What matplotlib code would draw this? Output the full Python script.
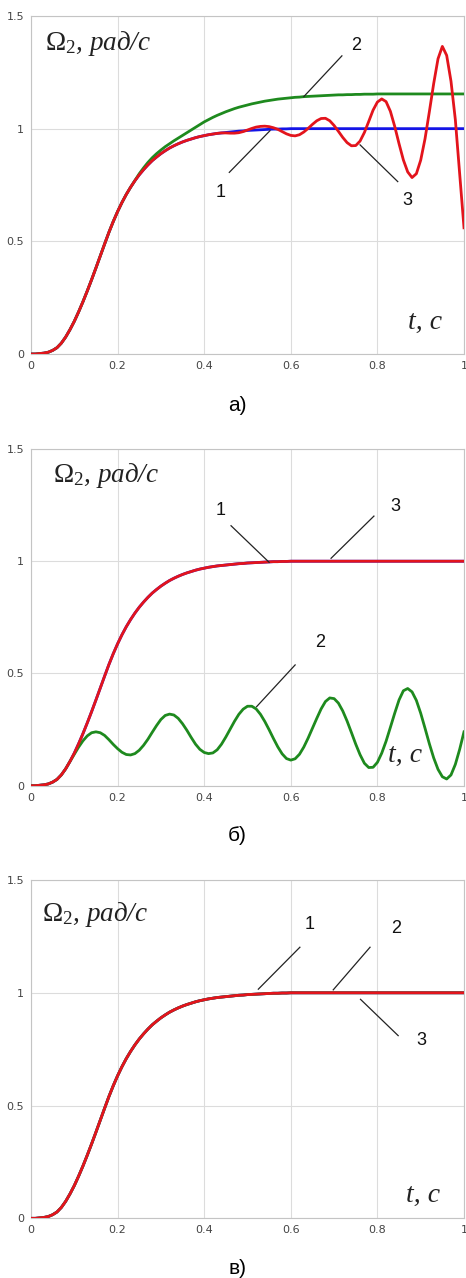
import numpy as np
import matplotlib
matplotlib.use("Agg")
import matplotlib.pyplot as plt

plt.rcParams["mathtext.fontset"] = "custom"
plt.rcParams["mathtext.rm"] = "Liberation Serif"
plt.rcParams["mathtext.it"] = "Liberation Serif:italic"

# time grid, s
t = np.round(np.arange(0, 101) * 0.01, 2)

# curve 1: reference response (also curve 3 in б and all curves in в)
omega_1 = [
    0.000, 0.000, 0.002, 0.004, 0.008, 0.016, 0.028, 0.048, 0.075, 0.108,
    0.145, 0.187, 0.232, 0.280, 0.330, 0.382, 0.435, 0.488, 0.540, 0.588,
    0.632, 0.672, 0.708, 0.740, 0.769, 0.795, 0.818, 0.839, 0.858, 0.874,
    0.889, 0.902, 0.914, 0.924, 0.933, 0.941, 0.948, 0.954, 0.960, 0.965,
    0.969, 0.973, 0.976, 0.979, 0.981, 0.983, 0.985, 0.987, 0.989, 0.990,
    0.992, 0.993, 0.994, 0.995, 0.996, 0.997, 0.998, 0.998, 0.999, 0.999,
    1.000, 1.000, 1.000, 1.000, 1.000, 1.000, 1.000, 1.000, 1.000, 1.000,
    1.000, 1.000, 1.000, 1.000, 1.000, 1.000, 1.000, 1.000, 1.000, 1.000,
    1.000, 1.000, 1.000, 1.000, 1.000, 1.000, 1.000, 1.000, 1.000, 1.000,
    1.000, 1.000, 1.000, 1.000, 1.000, 1.000, 1.000, 1.000, 1.000, 1.000,
    1.000,
]

# а): curve 2
omega_2a = [
    0.000, 0.000, 0.002, 0.004, 0.008, 0.016, 0.028, 0.048, 0.075, 0.108,
    0.145, 0.187, 0.232, 0.280, 0.330, 0.382, 0.435, 0.488, 0.540, 0.588,
    0.632, 0.672, 0.708, 0.740, 0.770, 0.800, 0.826, 0.850, 0.871, 0.889,
    0.905, 0.920, 0.933, 0.946, 0.958, 0.970, 0.982, 0.994, 1.006, 1.018,
    1.030, 1.040, 1.050, 1.059, 1.067, 1.075, 1.082, 1.089, 1.095, 1.100,
    1.105, 1.110, 1.114, 1.118, 1.122, 1.125, 1.128, 1.131, 1.133, 1.135,
    1.137, 1.139, 1.140, 1.142, 1.143, 1.144, 1.145, 1.146, 1.147, 1.148,
    1.149, 1.150, 1.150, 1.151, 1.151, 1.152, 1.152, 1.153, 1.153, 1.153,
    1.154, 1.154, 1.154, 1.154, 1.154, 1.154, 1.154, 1.154, 1.154, 1.154,
    1.154, 1.154, 1.154, 1.154, 1.154, 1.154, 1.154, 1.154, 1.154, 1.154,
    1.154,
]

# а): curve 3
omega_3a = [
    0.000, 0.000, 0.002, 0.004, 0.008, 0.016, 0.028, 0.048, 0.075, 0.108,
    0.145, 0.187, 0.232, 0.280, 0.330, 0.382, 0.435, 0.488, 0.540, 0.588,
    0.632, 0.672, 0.708, 0.740, 0.769, 0.795, 0.818, 0.839, 0.858, 0.874,
    0.889, 0.902, 0.914, 0.924, 0.933, 0.941, 0.948, 0.954, 0.960, 0.965,
    0.969, 0.973, 0.976, 0.979, 0.981, 0.981, 0.980, 0.980, 0.982, 0.987,
    0.994, 1.001, 1.007, 1.010, 1.011, 1.009, 1.004, 0.997, 0.987, 0.977,
    0.970, 0.968, 0.973, 0.985, 1.001, 1.019, 1.035, 1.045, 1.046, 1.035,
    1.014, 0.988, 0.961, 0.938, 0.924, 0.925, 0.945, 0.983, 1.032, 1.082,
    1.118, 1.132, 1.120, 1.077, 1.010, 0.933, 0.861, 0.808, 0.783, 0.800,
    0.860, 0.955, 1.075, 1.200, 1.310, 1.365, 1.325, 1.210, 1.040, 0.800,
    0.560,
]

# б): curve 2
omega_2b = [
    0.000, 0.000, 0.002, 0.004, 0.008, 0.016, 0.028, 0.048, 0.075, 0.108,
    0.140, 0.172, 0.200, 0.222, 0.236, 0.240, 0.236, 0.224, 0.205, 0.184,
    0.165, 0.149, 0.139, 0.137, 0.143, 0.158, 0.180, 0.207, 0.238, 0.268,
    0.295, 0.313, 0.319, 0.315, 0.300, 0.276, 0.247, 0.215, 0.185, 0.162,
    0.148, 0.143, 0.146, 0.160, 0.185, 0.217, 0.252, 0.287, 0.318, 0.341,
    0.354, 0.354, 0.342, 0.318, 0.286, 0.249, 0.210, 0.173, 0.142, 0.121,
    0.114, 0.120, 0.140, 0.172, 0.212, 0.256, 0.300, 0.342, 0.375, 0.391,
    0.388, 0.368, 0.333, 0.288, 0.237, 0.185, 0.138, 0.100, 0.081, 0.082,
    0.104, 0.145, 0.198, 0.260, 0.323, 0.382, 0.423, 0.433, 0.418, 0.380,
    0.323, 0.256, 0.187, 0.124, 0.073, 0.040, 0.030, 0.048, 0.095, 0.162,
    0.240,
]

x_ticks = [0, 0.2, 0.4, 0.6, 0.8, 1]
x_ticklabels = ["0", "0.2", "0.4", "0.6", "0.8", "1"]
y_ticks = [0, 0.5, 1, 1.5]
y_ticklabels = ["0", "0.5", "1", "1.5"]

RED = "#e3141c"
GREEN = "#1e8a1e"
BLUE = "#1414e6"

fig = plt.figure(figsize=(4.66, 12.78), dpi=100)

panels = [
    # (axes rect, caption, caption y, Ω label pos, t label pos, callouts)
    ([0.0665, 0.7230, 0.9292, 0.2645], "а)", 0.683, (0.033, 1.38), (0.870, 0.14),
     [("1", (0.552, 0.991), (0.458, 0.806), (0.438, 0.715)),
      ("2", (0.630, 1.142), (0.718, 1.323), (0.750, 1.370)),
      ("3", (0.760, 0.928), (0.847, 0.765), (0.870, 0.680))]),
    ([0.0665, 0.3852, 0.9292, 0.2635], "б)", 0.3466, (0.051, 1.38), (0.825, 0.135),
     [("1", (0.550, 0.995), (0.462, 1.158), (0.438, 1.225)),
      ("2", (0.521, 0.352), (0.610, 0.538), (0.667, 0.640)),
      ("3", (0.693, 1.013), (0.792, 1.201), (0.841, 1.245))]),
    ([0.0665, 0.0467, 0.9292, 0.2647], "в)", 0.0078, (0.026, 1.345), (0.866, 0.10),
     [("1", (0.525, 1.016), (0.621, 1.202), (0.644, 1.305)),
      ("2", (0.698, 1.013), (0.783, 1.202), (0.843, 1.285)),
      ("3", (0.761, 0.971), (0.848, 0.810), (0.902, 0.790))]),
]

for i, (rect, caption, cap_y, om_pos, t_pos, callouts) in enumerate(panels):
    ax = fig.add_axes(rect)

    if i == 0:
        ax.plot(t, omega_1, color=BLUE, lw=2.0, zorder=3)
        ax.plot(t, omega_2a, color=GREEN, lw=2.0, zorder=3)
        ax.plot(t, omega_3a, color=RED, lw=2.0, zorder=4)
    elif i == 1:
        ax.plot(t, omega_1, color=BLUE, lw=2.0, zorder=3)
        ax.plot(t, omega_2b, color=GREEN, lw=2.0, zorder=3)
        ax.plot(t, omega_1, color=RED, lw=2.0, zorder=4)
    else:
        ax.plot(t, omega_1, color=BLUE, lw=2.0, zorder=3)
        ax.plot(t, omega_1, color=GREEN, lw=2.0, zorder=3)
        ax.plot(t, omega_1, color=RED, lw=2.0, zorder=4)

    ax.set_xlim(0, 1)
    ax.set_ylim(0, 1.5)
    ax.set_xticks(x_ticks)
    ax.set_xticklabels(x_ticklabels)
    ax.set_yticks(y_ticks)
    ax.set_yticklabels(y_ticklabels)
    ax.tick_params(length=0, labelsize=8, labelcolor="#444444", pad=5)
    ax.grid(True, color="#dcdcdc", lw=0.8)
    for s in ax.spines.values():
        s.set_color("#c4c4c4")
        s.set_linewidth(0.8)

    ax.text(om_pos[0], om_pos[1], r"$\Omega_2$, рад/с", family="Liberation Serif",
            style="italic", fontsize=19.5, color="#222222", ha="left", va="center")
    ax.text(t_pos[0], t_pos[1], "t, с", family="Liberation Serif",
            style="italic", fontsize=20, color="#222222", ha="left", va="center")

    for num, p_end, p_start, p_txt in callouts:
        ax.plot([p_start[0], p_end[0]], [p_start[1], p_end[1]], color="#222222",
                lw=0.9, zorder=5)
        ax.text(p_txt[0], p_txt[1], num, family="Liberation Sans", fontsize=13,
                color="#111111", ha="center", va="center", zorder=5)

    fig.text(0.51, cap_y, caption, family="Liberation Sans", fontsize=15,
             ha="center", va="center")

fig.savefig("out.png", dpi=100)
